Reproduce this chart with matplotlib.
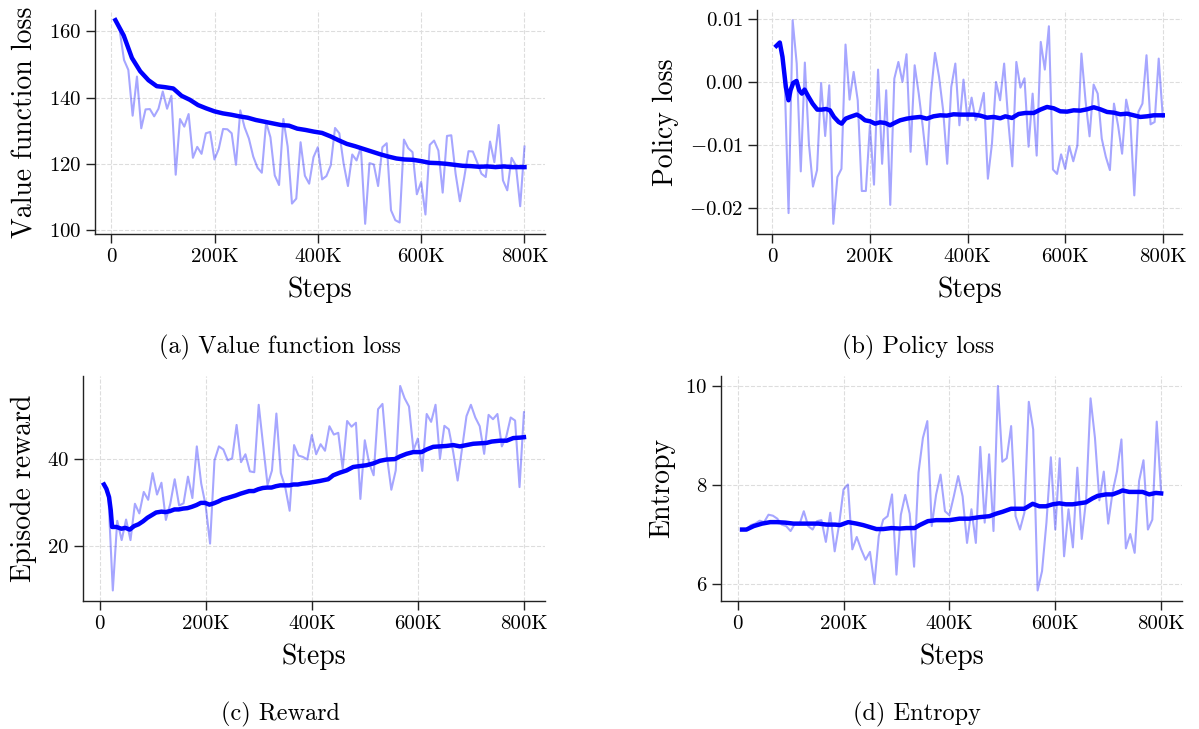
import numpy as np
import matplotlib
matplotlib.use("Agg")
import matplotlib.pyplot as plt
from matplotlib.ticker import FuncFormatter

plt.rcParams['font.family'] = ['cmr10', 'DejaVu Serif']
plt.rcParams['mathtext.fontset'] = 'cm'
plt.rcParams['axes.formatter.use_mathtext'] = True

# raw curves (96 logged points between 8K and 800K steps)
value_loss = [163.4, 160.2, 151.4, 148.4, 134.6, 146.4, 130.8, 136.5, 136.6, 134.4,
              136.7, 141.9, 136.7, 140.6, 116.8, 133.6, 131.3, 135.1, 121.9, 125.2,
              123.1, 129.3, 129.7, 121.4, 124.6, 130.6, 130.5, 129.3, 119.8, 136.2,
              131.1, 127.7, 122.3, 118.9, 117.4, 132.6, 128.1, 116.6, 113.7, 133.6,
              125.3, 108.1, 109.6, 126.6, 116.5, 114.1, 122.1, 125.1,
              115.4, 116.4, 119.6, 130.9, 129.3, 120.1, 113.4, 122.9, 121.1, 125.1,
              102.0, 120.3, 119.9, 113.4, 125.1, 126.3, 106.1, 103.1, 102.4, 127.4,
              124.8, 123.6, 110.9, 114.6, 104.8, 125.8, 127.1, 124.1, 111.4, 128.5,
              128.7, 117.1, 108.8, 115.9, 123.9, 123.8, 120.6, 117.1, 116.1, 126.8,
              120.6, 131.8, 115.1, 112.1, 121.9, 119.6, 107.3, 125.3]

policy_loss = [5.67, 6.20, 1.28, -20.8, 9.74, 2.87, -14.2, 3.03, -9.81, -16.6,
               -14.0, -0.20, -8.6, -0.57, -22.5, -15.1, -13.8, 5.88, -2.84, 1.55,
               -2.94, -17.3, -17.3, -6.9, -16.3, 1.92, -13.0, -1.36, -19.5, 0.49,
               3.13, -0.04, 4.35, -11.1, 2.60, -1.89, -7.17, -13.1, -1.89, 4.56,
               0.76, -4.53, -13.0, -0.83, 2.87, -6.9, 0.33, -6.1, -2.52, -6.1,
               -4.53, -1.78, -15.36, -9.81, -0.04, -2.94, 2.87, -6.11, -13.4, 3.13,
               -0.94, 0.54, -10.3, -1.89, -11.7, 6.30, 1.92, 8.78, -13.9, -14.6,
               -11.5, -13.8, -10.2, -12.6, -10.1, 4.45, -2.94, -8.65, -0.46, -1.89,
               -9.02, -11.9, -14.0, -3.47, -6.90, -11.4, -2.84, -5.85, -18.0, -4.79,
               -3.47, 4.19, -6.75, -6.38, 3.66, -5.58]

reward = [34.1, 31.3, 9.9, 25.8, 21.4, 26.1, 21.4, 29.7, 27.5, 32.4,
          30.6, 36.7, 31.8, 34.5, 26.0, 29.7, 35.3, 29.3, 29.8, 35.9,
          31.0, 42.8, 34.3, 29.3, 20.6, 39.6, 42.8, 42.1, 39.6, 40.1,
          47.7, 39.2, 41.0, 37.1, 36.9, 52.3, 43.1, 34.0, 37.3, 50.3,
          36.7, 33.5, 28.1, 43.1, 40.7, 40.4, 39.8,
          45.4, 41.0, 43.3, 41.8, 47.4, 45.5, 45.9, 37.7, 48.6, 47.3,
          48.2, 30.8, 44.2, 38.9, 36.2, 51.3, 52.5, 40.5, 32.9, 37.3,
          56.6, 53.8, 51.9, 41.9, 44.6, 37.2, 50.2, 48.4, 52.3, 40.0,
          47.5, 46.7, 41.5, 35.0, 42.3, 49.7, 52.3, 49.4, 47.4, 41.1,
          50.0, 49.0, 50.2, 42.8, 45.0, 49.4, 48.7, 33.5, 50.6]

entropy = [7.10, 7.10, 7.19, 7.22, 7.28, 7.25, 7.40, 7.38, 7.32, 7.20,
           7.17, 7.07, 7.22, 7.20, 7.47, 7.17, 7.10, 7.27, 7.29, 6.85,
           7.44, 6.66, 7.20, 7.91, 8.01, 6.70, 6.95, 6.70, 6.49, 6.65,
           6.00, 6.97, 7.30, 7.37, 7.81, 6.19, 7.40, 7.80, 7.42, 6.35,
           8.25, 8.95, 9.29, 7.17, 7.81, 8.21, 7.47, 7.39, 7.77, 8.18,
           7.77, 6.83, 7.51, 6.83, 8.77, 7.24, 8.62, 7.07, 10.0, 8.47,
           8.54, 9.19, 7.37, 7.10, 7.44, 9.68, 9.12, 5.87, 6.26, 7.24,
           8.56, 7.10, 8.54, 6.56, 7.51, 6.74, 8.35, 6.91, 7.71, 9.75,
           8.95, 7.69, 8.27, 7.22, 7.86, 8.28, 8.92, 6.72, 7.01, 6.63,
           8.08, 8.50, 7.10, 7.30, 9.28, 7.84]

# smoothed curves (step in K, value)
value_smooth_k = [8, 24, 40, 56, 72, 88, 104, 120, 136, 152, 168, 184, 200, 216, 232,
                  248, 264, 280, 296, 312, 328, 344, 360, 376, 392, 408, 424, 440,
                  456, 472, 488, 504, 520, 536, 552, 568, 584, 600, 616, 632, 648,
                  664, 680, 696, 712, 728, 744, 760, 776, 792, 800]
value_smooth = [163.4, 158.8, 152.0, 148.0, 145.3, 143.5, 143.2, 142.8, 140.6, 139.4,
                137.8, 136.8, 135.9, 135.3, 134.9, 134.4, 134.0, 133.3, 132.8, 132.3,
                131.8, 131.6, 130.7, 130.3, 129.8, 129.4, 128.4, 127.2, 126.1, 125.4,
                124.6, 123.8, 123.0, 122.3, 121.7, 121.4, 121.3, 120.9, 120.4, 120.3,
                120.1, 119.8, 119.5, 119.4, 119.2, 119.3, 119.1, 119.3, 119.1, 119.1,
                119.1]

policy_smooth_k = [8, 15, 20.5, 27.4, 32.9, 37, 42.5, 49.3, 54.8, 60.3, 65.8, 73.3,
                   82.2, 91.8, 100.7, 109.6, 117.8, 126, 135.6, 141.8, 150, 158.9,
                   172.6, 179.5, 189.7, 200, 210.3, 220.5, 230.8, 241, 251.4, 261.6,
                   275.3, 289, 302.7, 316.4, 330, 343.8, 357.5, 371.2,
                   385, 398.6, 412.3, 426, 439.7, 453.3, 467, 477.3, 491, 504.6,
                   518.3, 535.4, 549, 562.7, 576.4, 590, 603.8, 617.4, 631, 644.8,
                   658.5, 672, 685.8, 699.5, 713, 726.8, 740.5, 754, 767.9, 781.5, 800]
policy_smooth = [5.67, 6.2, 3.93, -0.83, -2.94, -1.36, -0.20, 0.12, -1.36, -1.89,
                 -1.25, -2.31, -3.47, -4.42, -4.42, -4.32, -4.53, -5.58, -6.38, -6.64,
                 -5.85, -5.58, -5.21, -5.48, -6.11, -6.27, -6.64, -6.43, -6.53, -6.9,
                 -6.48, -6.11, -5.85, -5.69, -5.58, -5.85, -5.48, -5.32, -5.37, -5.16,
                 -5.21, -5.21, -5.21, -5.37, -5.69, -5.58, -5.79, -5.48, -5.74, -5.11,
                 -4.95, -4.95, -4.42, -4.0, -4.21, -4.69, -4.74, -4.53, -4.58, -4.37,
                 -4.05, -4.37, -4.79, -4.90, -5.16, -5.06, -5.32, -5.58, -5.48, -5.32,
                 -5.32]

reward_smooth_k = [8, 12.6, 17.6, 20.8, 23.3, 31.4, 40.9, 48.4, 56.6, 64.8, 73, 81.8,
                   89.9, 98.1, 106.3, 116.4, 123.9, 132.1, 140.9, 149, 157.2, 165.4,
                   173.6, 182.4, 190.6, 198.7, 206.9, 215.1, 223.3, 231.4, 240.3,
                   248.4, 256.6, 265.4, 273.6, 281.8, 290.6, 298.7, 307.5, 315.7,
                   323.9, 332, 340.3, 348.4, 357.2, 365.4, 373.6, 382.4, 390.6,
                   415.1, 430.8, 440.3, 452.8, 465.4, 478, 490.6, 503.1, 515.7, 528.3,
                   540.9, 556.6, 566, 578.6, 591.2, 606.9, 616.4, 629, 641.5, 654,
                   666.7, 679.2, 691.8, 704.4, 717, 729.6, 739, 754.7, 767.3, 779.9,
                   792.5, 800]
reward_smooth = [34.1, 33.1, 31.2, 28.2, 24.4, 24.4, 24.0, 24.2, 23.8, 24.6, 25.0, 25.7,
                 26.5, 27.1, 27.7, 27.9, 27.8, 28.0, 28.4, 28.4, 28.6, 28.7, 29.0, 29.4,
                 29.9, 29.9, 29.5, 29.8, 30.2, 30.7, 31.0, 31.3, 31.6, 32.0, 32.3, 32.6,
                 32.6, 33.0, 33.3, 33.4, 33.4, 33.7, 33.9, 33.9, 33.9, 34.1, 34.1, 34.3,
                 34.4, 34.9, 35.3, 36.2, 36.8, 37.3, 38.1, 38.3, 38.5, 38.9, 39.5, 39.8,
                 39.9, 40.5, 41.1, 41.5, 41.5, 42.1, 42.7, 42.8, 42.9, 43.1, 42.8, 43.1,
                 43.4, 43.5, 43.6, 43.9, 44.1, 44.1, 44.7, 44.8, 44.9]

entropy_smooth_k = [8, 16.3, 30.1, 45.8, 61.4, 74, 89.7, 105.3, 121, 136.7, 152.4, 168,
                    183.7, 193.1, 208.8, 224.5, 237, 249.5, 262, 274.6, 290.3, 306,
                    318.5, 334.2, 343.6, 359.2, 374.9, 390.6,
                    400, 418.9, 437.7, 456.6, 475.5, 488, 500.6, 516.4, 532, 541.5,
                    557.2, 569.8, 582.4, 595, 607.5, 620, 632.7, 645.3, 657.9, 670.4,
                    680, 695.6, 708.2, 720.8, 727, 739.6, 752.2, 764.8, 777.4, 790, 800]
entropy_smooth = [7.10, 7.10, 7.17, 7.22, 7.25, 7.25, 7.24, 7.22, 7.22, 7.22, 7.22, 7.20,
                  7.20, 7.19, 7.25, 7.22, 7.19, 7.15, 7.11, 7.11, 7.13, 7.12, 7.13, 7.13,
                  7.19, 7.27, 7.29, 7.29,
                  7.29, 7.32, 7.32, 7.35, 7.37, 7.42, 7.46, 7.52, 7.52, 7.52, 7.62, 7.57,
                  7.57, 7.61, 7.63, 7.61, 7.61, 7.63, 7.65, 7.73, 7.78, 7.81, 7.81, 7.86,
                  7.89, 7.86, 7.86, 7.86, 7.81, 7.84, 7.83]

steps = np.linspace(8000, 800000, len(value_loss))

panels = [
    (value_loss, value_smooth_k, value_smooth, 1.0, 'Value function loss',
     '(a) Value function loss', [100, 120, 140, 160]),
    (policy_loss, policy_smooth_k, policy_smooth, 1e-3, 'Policy loss',
     '(b) Policy loss', [-0.02, -0.01, 0.0, 0.01]),
    (reward, reward_smooth_k, reward_smooth, 1.0, 'Episode reward',
     '(c) Reward', [20, 40]),
    (entropy, entropy_smooth_k, entropy_smooth, 1.0, 'Entropy',
     '(d) Entropy', [6, 8, 10]),
]

# axes boxes in figure fractions, caption centres
boxes = [[0.0792, 0.679, 0.3753, 0.3073],
         [0.6314, 0.679, 0.3545, 0.3073],
         [0.0692, 0.176, 0.3853, 0.3086],
         [0.6014, 0.176, 0.3845, 0.3086]]
caps = [(0.2335, 0.524), (0.7656, 0.524), (0.2335, 0.0206), (0.7648, 0.0206)]

fig = plt.figure(figsize=(11.99, 7.29), dpi=100)

def kfmt(x, pos):
    return '0' if x == 0 else '%dK' % round(x / 1000)

for (raw, sk, sv, scale, ylab, cap, yt), box, cp in zip(panels, boxes, caps):
    ax = fig.add_axes(box)
    ax.plot(steps, np.array(raw) * scale, color='blue', alpha=0.35, lw=1.5)
    ax.plot(np.array(sk) * 1000, np.array(sv) * scale, color='blue', lw=3.2)
    ax.set_xticks([0, 200000, 400000, 600000, 800000])
    ax.xaxis.set_major_formatter(FuncFormatter(kfmt))
    ax.set_yticks(yt)
    ax.grid(True, ls='--', color='#dddddd', lw=0.8)
    ax.set_axisbelow(True)
    for s in ['top', 'right']:
        ax.spines[s].set_visible(False)
    for s in ['left', 'bottom']:
        ax.spines[s].set_color('#222222')
        ax.spines[s].set_linewidth(1.0)
    ax.tick_params(labelsize=15, length=6.5, width=1.0, color='#222222')
    ax.set_xlabel('Steps', fontsize=20, labelpad=8)
    ax.set_ylabel(ylab, fontsize=20, labelpad=7)
    fig.text(cp[0], cp[1], cap, fontsize=17.5, ha='center', va='center')

fig.savefig('out.png', dpi=100)
